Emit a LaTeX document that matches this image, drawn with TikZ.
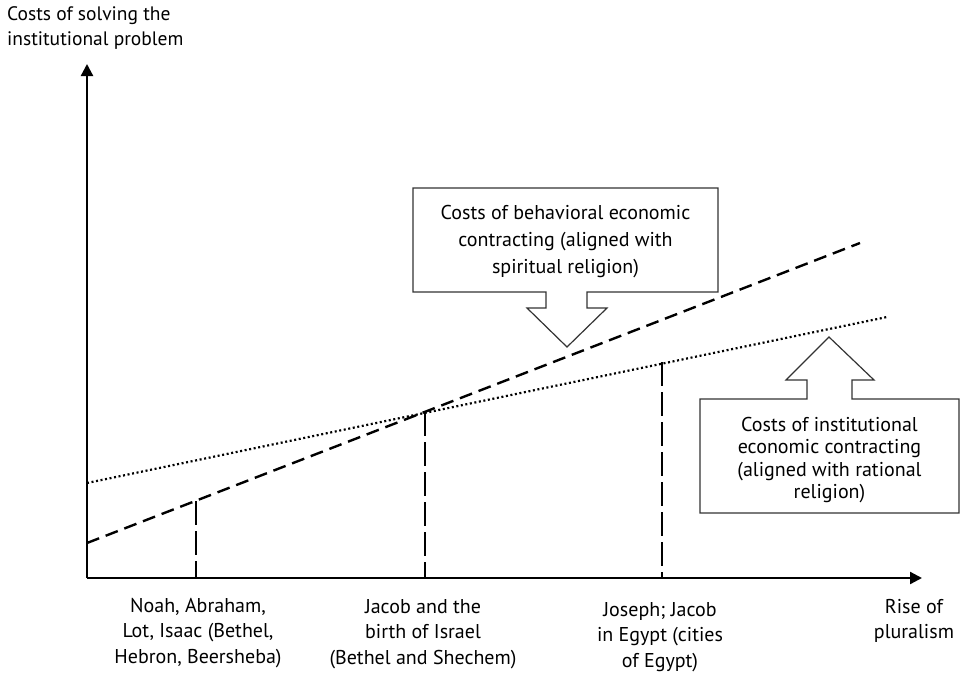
\documentclass[tikz,border=0pt]{standalone}
\usepackage{fontspec}
\setmainfont{PT Sans}
\usetikzlibrary{arrows.meta}
\tikzset{
  axisline/.style={line width=2.2pt,-{Triangle[length=12pt,width=12pt]}},
  behav/.style={line width=2.4pt,dash pattern=on 13pt off 7pt},
  instit/.style={line width=2.2pt,dash pattern=on 2pt off 2.6pt},
  dropline/.style={line width=2pt,dash pattern=on 24pt off 6pt},
  callout/.style={line width=1.2pt,draw=black!80,fill=white,line join=miter},
  lbl/.style={align=center,inner sep=0pt,font=\fontsize{20}{25.5}\selectfont},
}
\begin{document}
\begin{tikzpicture}[x=1pt,y=-1pt]
\useasboundingbox (0,0) rectangle (964,675);
% origin and axes
\coordinate (O) at (87,578);
\coordinate (ytip) at (87,64);
\coordinate (xtip) at (922,578);
% cost lines
\coordinate (b0) at (87,543);
\coordinate (b1) at (860,243);
\coordinate (i0) at (87,483);
\coordinate (i1) at (887,317);
% drop points
\coordinate (p1) at (196,501);
\coordinate (p1b) at (196,578);
\coordinate (p2) at (425,412);
\coordinate (p2b) at (425,578);
\coordinate (p3) at (662,362);
\coordinate (p3b) at (662,578);

\draw[instit] (i0) -- (i1);
\draw[behav] (b0) -- (b1);
\draw[dropline] (p1) -- (p1b);
\draw[dropline] (p2) -- (p2b);
\draw[dropline] (p3) -- (p3b);
\draw[axisline] (O) -- (ytip);
\draw[axisline] (O) -- (xtip);

% callout 1
\draw[callout] (413,188) -- (718,188) -- (718,292) -- (587,292) -- (587,308) -- (607,308)
  -- (567,347) -- (527,308) -- (546,308) -- (546,292) -- (413,292) -- cycle;
\node[lbl,font=\fontsize{20}{27}\selectfont] (c1) at (565.5,242) {Costs of behavioral economic\\contracting (aligned with\\spiritual religion)};
% callout 2
\draw[callout] (700,513) -- (959,513) -- (959,399) -- (852,399) -- (852,380) -- (874,380)
  -- (829,337) -- (786,380) -- (807,380) -- (807,399) -- (700,399) -- cycle;
\node[lbl,font=\fontsize{20}{22.6}\selectfont] (c2) at (829.5,460) {Costs of institutional\\economic contracting\\(aligned with rational\\religion)};

% axis labels
\node[lbl,align=left,anchor=west,font=\fontsize{19.5}{25}\selectfont] (ylab) at (7,28) {Costs of solving the\\institutional problem};
\node[lbl] (xlab) at (914,621) {Rise of\\pluralism};
\node[lbl] (e1) at (198,633) {Noah, Abraham,\\Lot, Isaac (Bethel,\\Hebron, Beersheba)};
\node[lbl] (e2) at (423,634) {Jacob and the\\birth of Israel\\(Bethel and Shechem)};
\node[lbl] (e3) at (660,637) {Joseph; Jacob\\in Egypt (cities\\of Egypt)};
\end{tikzpicture}
\end{document}
